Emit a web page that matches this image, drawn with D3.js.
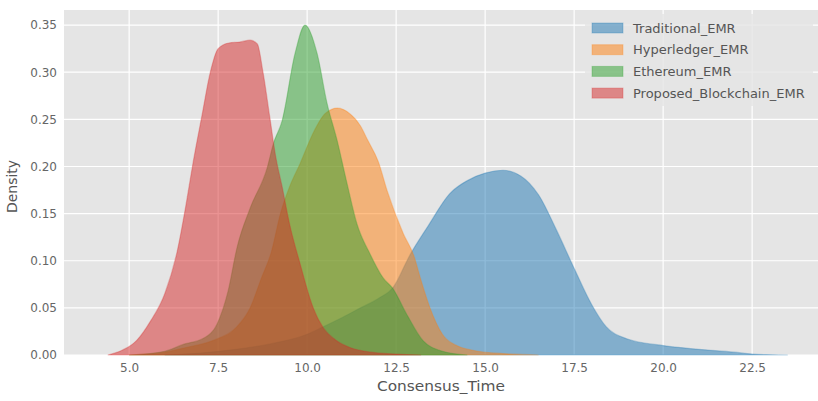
<!DOCTYPE html>
<html>
<head>
<meta charset="utf-8">
<script src="https://cdn.jsdelivr.net/npm/d3@7"></script>
<style>
  body { margin: 0; background: #fff; }
  svg { display: block; font-family: "DejaVu Sans", sans-serif; }
</style>
</head>
<body>
<svg width="818" height="401"></svg>
<script>
// density curves (x = Consensus_Time, y = Density)
const seriesNames = ['Traditional_EMR', 'Hyperledger_EMR', 'Ethereum_EMR', 'Proposed_Blockchain_EMR'];
const seriesColors = ['#1f77b4', '#ff7f0e', '#2ca02c', '#d62728'];

const traditionalX = [6.0, 7.0, 8.0, 9.0, 10.0, 10.4, 11.0, 11.5, 12.0, 12.4, 12.9, 13.4, 14.0, 14.5, 15.0, 15.5, 16.0, 16.5, 17.0, 17.5, 18.0, 18.4, 19.0, 20.0, 21.0, 22.0, 22.5, 23.0, 23.5];
const traditionalY = [0, 0.002, 0.006, 0.012, 0.022, 0.029, 0.040, 0.050, 0.060, 0.071, 0.107, 0.137, 0.171, 0.185, 0.193, 0.196, 0.190, 0.170, 0.133, 0.092, 0.053, 0.030, 0.017, 0.010, 0.006, 0.003, 0.001, 0.0003, 0];

const hyperledgerX = [5.0, 6.0, 6.6, 7.4, 8.0, 8.4, 8.7, 9.0, 9.25, 9.5, 9.8, 10.2, 10.5, 10.85, 11.2, 11.5, 11.7, 12.0, 12.25, 12.7, 13.0, 13.2, 13.45, 13.8, 14.2, 14.8, 15.5, 16.5];
const hyperledgerY = [0, 0.003, 0.008, 0.016, 0.029, 0.05, 0.08, 0.11, 0.15, 0.178, 0.203, 0.238, 0.256, 0.262, 0.256, 0.243, 0.228, 0.205, 0.174, 0.129, 0.105, 0.079, 0.05, 0.022, 0.01, 0.004, 0.0015, 0];

const ethereumX = [5.0, 6.0, 6.5, 7.1, 7.47, 7.78, 8.03, 8.4, 8.88, 9.05, 9.3, 9.66, 9.94, 10.28, 10.56, 10.84, 11.12, 11.4, 11.77, 12.13, 12.4, 12.8, 13.26, 13.8, 14.5];
const ethereumY = [0, 0.004, 0.011, 0.018, 0.033, 0.068, 0.114, 0.156, 0.199, 0.224, 0.249, 0.32, 0.35, 0.32, 0.267, 0.228, 0.182, 0.139, 0.107, 0.082, 0.071, 0.043, 0.015, 0.004, 0];

const proposedX = [4.4, 4.8, 5.2, 5.6, 6.0, 6.35, 6.6, 6.8, 7.05, 7.28, 7.5, 7.8, 8.1, 8.4, 8.6, 8.76, 8.96, 9.1, 9.3, 9.5, 9.8, 10.17, 10.45, 10.8, 11.2, 11.8, 12.5, 13.2];
const proposedY = [0, 0.005, 0.015, 0.036, 0.065, 0.11, 0.16, 0.205, 0.255, 0.30, 0.325, 0.331, 0.332, 0.334, 0.33, 0.30, 0.25, 0.214, 0.178, 0.14, 0.097, 0.05, 0.029, 0.016, 0.008, 0.003, 0.001, 0];

const xTicks = [5.0, 7.5, 10.0, 12.5, 15.0, 17.5, 20.0, 22.5];
const yTicks = [0.00, 0.05, 0.10, 0.15, 0.20, 0.25, 0.30, 0.35];

const seriesX = [traditionalX, hyperledgerX, ethereumX, proposedX];
const seriesY = [traditionalY, hyperledgerY, ethereumY, proposedY];

const svg = d3.select('svg');
const plot = { left: 64, right: 818, top: 10, bottom: 355 };

const x = d3.scaleLinear().domain([3.17, 24.35]).range([plot.left, plot.right]);
const y = d3.scaleLinear().domain([0, 0.366]).range([plot.bottom, plot.top]);

// gray panel
svg.append('rect')
    .attr('x', plot.left)
    .attr('y', plot.top)
    .attr('width', plot.right - plot.left)
    .attr('height', plot.bottom - plot.top)
    .attr('fill', '#e5e5e5');

// white grid
svg.append('g')
    .selectAll('line')
    .data(xTicks)
    .enter().append('line')
    .attr('x1', d => x(d)).attr('x2', d => x(d))
    .attr('y1', plot.top).attr('y2', plot.bottom)
    .attr('stroke', '#fff').attr('stroke-width', 1.2);

svg.append('g')
    .selectAll('line')
    .data(yTicks)
    .enter().append('line')
    .attr('x1', plot.left).attr('x2', plot.right)
    .attr('y1', d => y(d)).attr('y2', d => y(d))
    .attr('stroke', '#fff').attr('stroke-width', 1.2);

// density areas
const area = d3.area()
    .x(d => x(d[0]))
    .y0(y(0))
    .y1(d => y(d[1]))
    .curve(d3.curveMonotoneX);

seriesNames.forEach((name, i) => {
    const pts = seriesX[i].map((v, j) => [v, seriesY[i][j]]);
    svg.append('path')
        .datum(pts)
        .attr('d', area)
        .attr('fill', seriesColors[i])
        .attr('fill-opacity', 0.5)
        .attr('stroke', seriesColors[i])
        .attr('stroke-opacity', 0.3)
        .attr('stroke-width', 1.2);
});

// axes
const xAxis = svg.append('g')
    .attr('transform', `translate(0,${plot.bottom})`)
    .call(d3.axisBottom(x).tickValues(xTicks).tickFormat(d3.format('.1f')).tickSize(0).tickPadding(8));
const yAxis = svg.append('g')
    .attr('transform', `translate(${plot.left},0)`)
    .call(d3.axisLeft(y).tickValues(yTicks).tickFormat(d3.format('.2f')).tickSize(0).tickPadding(7));

[xAxis, yAxis].forEach(ax => {
    ax.select('.domain').remove();
    ax.selectAll('text')
        .attr('fill', '#666')
        .style('font-size', '12px')
        .style('font-family', '"DejaVu Sans", sans-serif');
});

// axis labels
svg.append('text')
    .attr('x', (plot.left + plot.right) / 2)
    .attr('y', 391)
    .attr('text-anchor', 'middle')
    .attr('fill', '#555')
    .attr('textLength', 128)
    .attr('lengthAdjust', 'spacingAndGlyphs')
    .style('font-size', '14px')
    .text('Consensus_Time');

svg.append('text')
    .attr('transform', `translate(17,${(plot.top + plot.bottom) / 2 + 4}) rotate(-90)`)
    .attr('text-anchor', 'middle')
    .attr('fill', '#555')
    .style('font-size', '14px')
    .text('Density');

// legend
const legend = svg.append('g').attr('transform', 'translate(585,14)');
legend.append('rect')
    .attr('width', 228).attr('height', 92)
    .attr('fill', '#e5e5e5').attr('fill-opacity', 0.8);

seriesNames.forEach((name, i) => {
    const row = legend.append('g').attr('transform', `translate(0,${14 + i * 21.7})`);
    row.append('rect')
        .attr('x', 7).attr('y', -5)
        .attr('width', 31).attr('height', 10)
        .attr('fill', seriesColors[i])
        .attr('fill-opacity', 0.5)
        .attr('stroke', seriesColors[i])
        .attr('stroke-opacity', 0.3);
    row.append('text')
        .attr('x', 48).attr('y', 4.5)
        .attr('fill', '#555')
        .style('font-size', '13px')
        .text(name);
});
</script>
</body>
</html>
